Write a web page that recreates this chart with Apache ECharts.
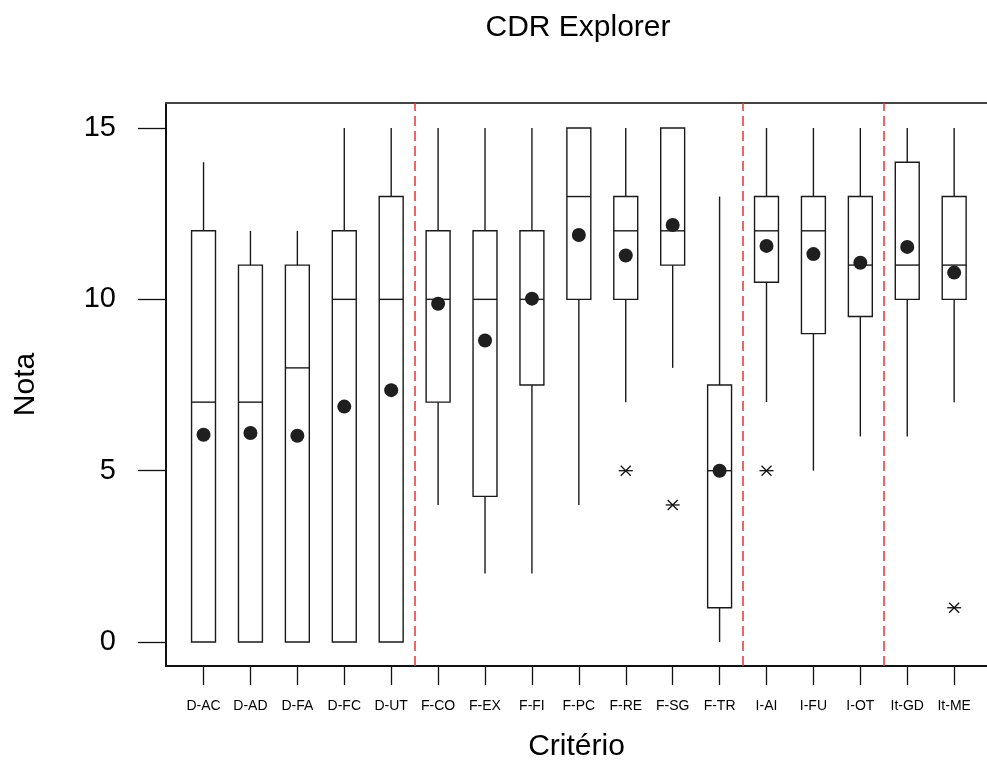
<!DOCTYPE html>
<html>
<head>
<meta charset="utf-8">
<script src="https://cdn.jsdelivr.net/npm/echarts@6/dist/echarts.min.js"></script>
<style>
  html, body { margin: 0; padding: 0; background: #fff; }
  #chart { width: 987px; height: 767px; }
</style>
</head>
<body>
<div id="chart"></div>
<script>
// categorias e estatísticas
const categories = ['D-AC', 'D-AD', 'D-FA', 'D-FC', 'D-UT', 'F-CO', 'F-EX', 'F-FI', 'F-PC',
  'F-RE', 'F-SG', 'F-TR', 'I-AI', 'I-FU', 'I-OT', 'It-GD', 'It-ME']
const whiskerLow = [0, 0, 0, 0, 0, 4, 2, 2, 4, 7, 8, 0, 7, 5, 6, 6, 7]
const q1 = [0, 0, 0, 0, 0, 7, 4.25, 7.5, 10, 10, 11, 1, 10.5, 9, 9.5, 10, 10]
const median = [7, 7, 8, 10, 10, 10, 10, 10, 13, 12, 12, 5, 12, 12, 11, 11, 11]
const q3 = [12, 11, 11, 12, 13, 12, 12, 12, 15, 13, 15, 7.5, 13, 13, 13, 14, 13]
const whiskerHigh = [14, 12, 12, 15, 15, 15, 15, 15, 15, 15, 15, 13, 15, 15, 15, 15, 15]
const means = [6.05, 6.1, 6.02, 6.87, 7.35, 9.87, 8.8, 10.02, 11.88, 11.28, 12.17, 5.0,
  11.56, 11.32, 11.07, 11.53, 10.78]
const outliers = [['F-RE', 5], ['F-SG', 4], ['I-AI', 5], ['It-ME', 1]]
const groupBreaks = [5.5, 12.5, 15.5]
const yTicks = [0, 5, 10, 15]

const xPos = categories.map((c, i) => i + 1)
const FONT = 'Liberation Sans, Arial, sans-serif'

const boxData = categories.map((c, i) => [i + 1, whiskerLow[i], q1[i], median[i], q3[i], whiskerHigh[i]])
const meanData = categories.map((c, i) => [i + 1, means[i]])
const outlierData = outliers.map(o => [categories.indexOf(o[0]) + 1, o[1]])

const lineStyle = { stroke: '#1a1a1a', lineWidth: 1.4 }

function renderBox(params, api) {
  const x = api.value(0)
  const pLow = api.coord([x, api.value(1)])
  const pQ1 = api.coord([x, api.value(2)])
  const pMed = api.coord([x, api.value(3)])
  const pQ3 = api.coord([x, api.value(4)])
  const pHigh = api.coord([x, api.value(5)])
  const half = api.size([0.51, 0])[0] / 2
  const cx = pQ1[0]
  const children = [
    { type: 'line', shape: { x1: cx, y1: pQ3[1], x2: cx, y2: pHigh[1] }, style: lineStyle },
    { type: 'line', shape: { x1: cx, y1: pLow[1], x2: cx, y2: pQ1[1] }, style: lineStyle },
    { type: 'rect', shape: { x: cx - half, y: pQ3[1], width: 2 * half, height: pQ1[1] - pQ3[1] },
      style: { fill: 'none', stroke: '#1a1a1a', lineWidth: 1.4 } },
    { type: 'line', shape: { x1: cx - half, y1: pMed[1], x2: cx + half, y2: pMed[1] }, style: lineStyle }
  ]
  return { type: 'group', children: children }
}

function renderStar(params, api) {
  const p = api.coord([api.value(0), api.value(1)])
  const st = { stroke: '#111', lineWidth: 1.3 }
  return {
    type: 'group',
    children: [
      { type: 'line', shape: { x1: p[0] - 7, y1: p[1], x2: p[0] + 7, y2: p[1] }, style: st },
      { type: 'line', shape: { x1: p[0] - 5, y1: p[1] - 5, x2: p[0] + 5, y2: p[1] + 5 }, style: st },
      { type: 'line', shape: { x1: p[0] - 5, y1: p[1] + 5, x2: p[0] + 5, y2: p[1] - 5 }, style: st }
    ]
  }
}

const chart = echarts.init(document.getElementById('chart'))
chart.setOption({
  animation: false,
  backgroundColor: '#fff',
  title: {
    text: 'CDR Explorer',
    left: 573,
    textAlign: 'center',
    top: 8,
    textStyle: { fontFamily: FONT, fontSize: 30, fontWeight: 'normal', color: '#000' }
  },
  grid: { left: 166, right: 0, top: 103, bottom: 98 },
  xAxis: [
    {
      type: 'value',
      min: 0.2,
      max: 17.7,
      name: 'Critério',
      nameLocation: 'middle',
      nameGap: 66,
      nameTextStyle: { fontFamily: FONT, fontSize: 30, color: '#000' },
      splitLine: { show: false },
      axisLine: { show: true, onZero: false, lineStyle: { color: '#111', width: 2 } },
      axisTick: { show: true, length: 19, customValues: xPos, lineStyle: { color: '#111', width: 1.3 } },
      axisLabel: {
        customValues: xPos,
        margin: 33,
        fontFamily: FONT,
        fontSize: 14,
        color: '#000',
        formatter: v => categories[Math.round(v) - 1]
      }
    },
    {
      type: 'value',
      position: 'top',
      min: 0.2,
      max: 17.7,
      splitLine: { show: false },
      axisLine: { show: true, onZero: false, lineStyle: { color: '#444', width: 2 } },
      axisTick: { show: false },
      axisLabel: { show: false }
    }
  ],
  yAxis: {
    type: 'value',
    min: -0.7,
    max: 15.73,
    name: 'Nota',
    nameLocation: 'middle',
    nameGap: 125,
    nameTextStyle: { fontFamily: FONT, fontSize: 30, color: '#000' },
    splitLine: { show: false },
    axisLine: { show: true, onZero: false, lineStyle: { color: '#111', width: 2 } },
    axisTick: { show: true, length: 28, customValues: yTicks, lineStyle: { color: '#111', width: 1.3 } },
    axisLabel: { customValues: yTicks, margin: 50, fontFamily: FONT, fontSize: 29, color: '#000' }
  },
  series: [
    {
      type: 'custom',
      renderItem: renderBox,
      data: boxData,
      encode: { x: 0, y: [1, 2, 3, 4, 5] },
      silent: true,
      markLine: {
        silent: true,
        symbol: 'none',
        label: { show: false },
        lineStyle: { color: '#e8333b', type: [10, 5], width: 1.5 },
        data: groupBreaks.map(v => ({ xAxis: v }))
      }
    },
    {
      type: 'scatter',
      data: meanData,
      symbol: 'circle',
      symbolSize: 14,
      itemStyle: { color: '#1f1f1f', opacity: 1 },
      silent: true
    },
    {
      type: 'custom',
      renderItem: renderStar,
      data: outlierData,
      encode: { x: 0, y: 1 },
      silent: true
    }
  ]
})
</script>
</body>
</html>
